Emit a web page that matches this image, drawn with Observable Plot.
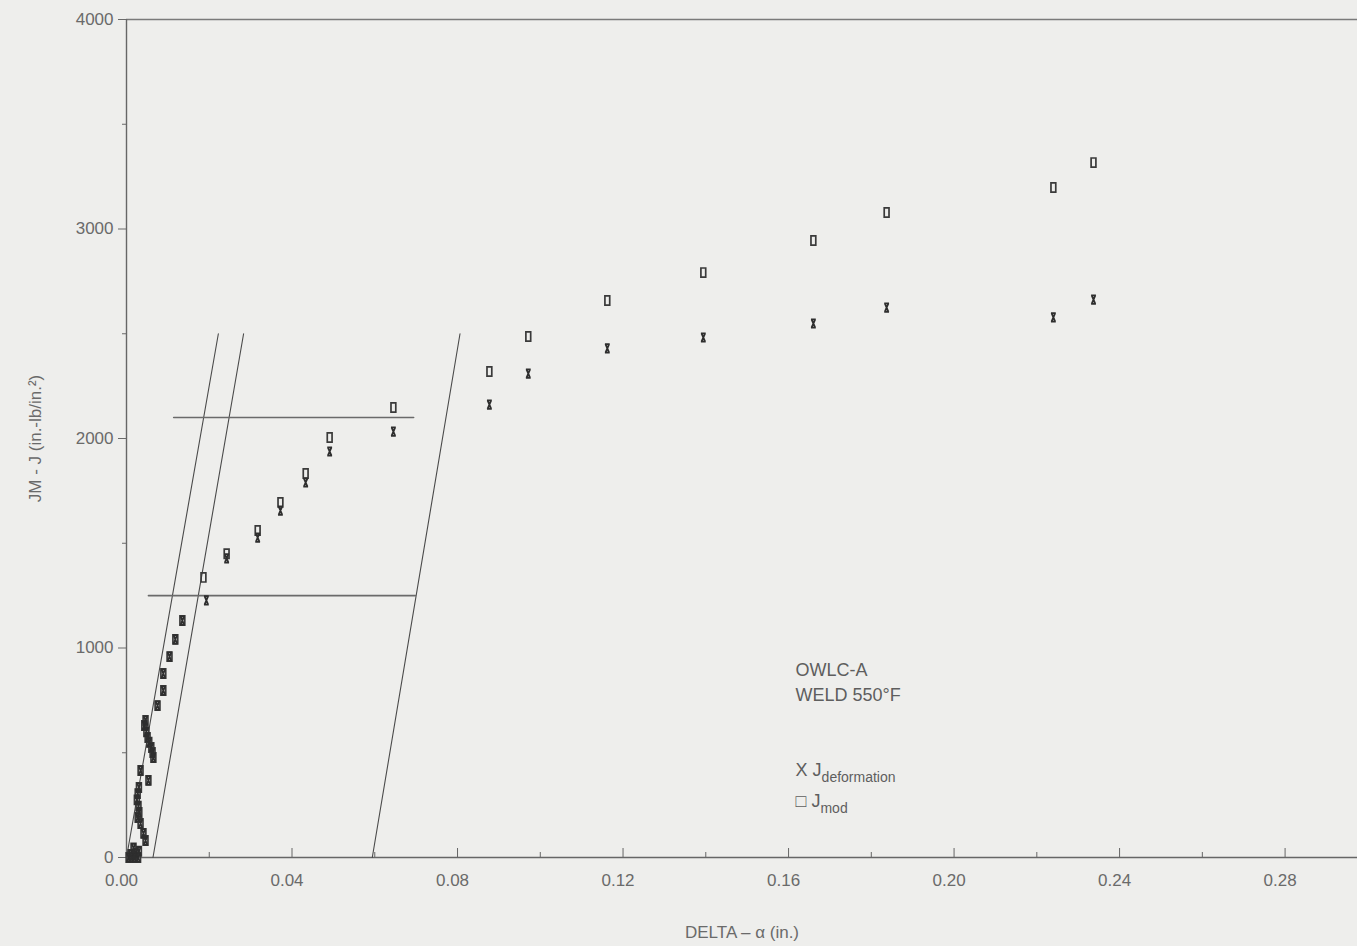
<!DOCTYPE html>
<html><head><meta charset="utf-8">
<script src="https://cdn.jsdelivr.net/npm/d3@7"></script>
<script src="https://cdn.jsdelivr.net/npm/@observablehq/plot@0.6"></script>
<style>
html,body{margin:0;padding:0;background:#eeeeec;overflow:hidden}
#chart svg{display:block}
</style>
</head><body><div id="chart"></div>
<script>
// J_mod points (upper symbols)
const deltaMod = [0.0186,0.0242,0.0317,0.0372,0.0433,0.0491,0.0645,0.0877,0.0971,0.1162,0.1394,0.1660,0.1837,0.2240,0.2337];
const jMod     = [1337,1450,1561,1695,1833,2005,2148,2320,2487,2659,2792,2945,3079,3198,3317];
// J_deformation points (lower symbols)
const deltaDef = [0.0193,0.0242,0.0317,0.0372,0.0433,0.0491,0.0645,0.0877,0.0971,0.1162,0.1394,0.1660,0.1837,0.2240,0.2337];
const jDef     = [1227,1428,1527,1656,1790,1938,2033,2162,2310,2430,2482,2549,2625,2578,2663];
// early points where both J values coincide
const deltaLow = [0.0005,0.0012,0.0020,0.0028,0.0010,0.0022,0.0030,0.0017,0.0046,0.0041,0.0034,0.0027,0.0031,0.0029,0.0025,0.0027,0.0030,0.0053,0.0034,0.0065,0.0063,0.0060,0.0055,0.0051,0.0048,0.0043,0.0046,0.0075,0.0089,0.0089,0.0104,0.0118,0.0135];
const jLow     = [0,0,0,0,15,20,30,45,81,115,162,191,215,245,275,305,334,368,415,477,501,525,550,573,600,630,654,725,797,878,959,1041,1131];
// blunting / offset lines
const bluntStart = [0, 0.0064, 0.0594];
const bluntEnd   = [0.0222, 0.0283, 0.0806];
const bluntJ     = [0, 2500];
// exclusion lines
const exclJ     = [2100, 1250];
const exclStart = [0.0114, 0.0053];
const exclEnd   = [0.0694, 0.0698];
// ticks
const xMajor = [0,0.04,0.08,0.12,0.16,0.20,0.24,0.28];
const xMinor = [0.02,0.06,0.10,0.14,0.18,0.22,0.26];
const yMajor = [0,1000,2000,3000,4000];
const yMinor = [500,1500,2500,3500];
// annotation
const annText = ["OWLC-A","WELD 550°F","X Jdeformation","□ Jmod"];
const annJ    = [893, 773, 415, 267];
const annDelta = 0.1617;

const W = 1357, H = 946, mL = 126, mT = 19, mB = 89;
const plotH = H - mT - mB;

// tall narrow glyph-like symbols
const tallBox = {draw(ctx){ ctx.moveTo(-2.4,-4.6); ctx.lineTo(2.4,-4.6); ctx.lineTo(2.4,4.6); ctx.lineTo(-2.4,4.6); ctx.closePath(); }};
const tallX = {draw(ctx){ ctx.moveTo(-2.4,-4.2); ctx.lineTo(2.4,-4.2); ctx.moveTo(-2.4,4.2); ctx.lineTo(2.4,4.2); ctx.moveTo(-1.8,-4.2); ctx.lineTo(1.8,4.2); ctx.moveTo(1.8,-4.2); ctx.lineTo(-1.8,4.2); }};

const modPts = deltaMod.map((d,i)=>({x:d,y:jMod[i]})).concat(deltaLow.map((d,i)=>({x:d,y:jLow[i]})));
const defPts = deltaDef.map((d,i)=>({x:d,y:jDef[i]})).concat(deltaLow.map((d,i)=>({x:d,y:jLow[i]})));
const bluntLines = bluntStart.flatMap((s,i)=>[{k:i,x:s,y:bluntJ[0]},{k:i,x:bluntEnd[i],y:bluntJ[1]}]);
const exclLines = exclJ.flatMap((j,i)=>[{k:i,x:exclStart[i],y:j},{k:i,x:exclEnd[i],y:j}]);

const chart = Plot.plot({
  width: W, height: H,
  marginLeft: mL, marginRight: 0, marginTop: mT, marginBottom: mB,
  style: {background:"#eeeeec", color:"#6a6a6a", fontFamily:"'Liberation Sans', Arial, sans-serif", fontSize:"17px"},
  x: {domain:[0,0.2975]},
  y: {domain:[0,4000]},
  marks: [
    Plot.ruleY([4000], {stroke:"#7a7a7a", strokeWidth:1.6}),
    Plot.ruleX([0], {stroke:"#666", strokeWidth:1.4}),
    Plot.ruleY([0], {stroke:"#666", strokeWidth:1.4}),
    Plot.axisY({ticks:yMajor, tickSize:8, tickPadding:5, tickFormat:d=>String(d), label:"JM - J (in.-lb/in.²)", labelAnchor:"center", labelArrow:"none", labelOffset:98}),
    Plot.axisY({ticks:yMinor, tickSize:4, tickFormat:()=>"", label:null}),
    Plot.tickX(xMajor, {x:d=>d, insetTop:plotH-9, stroke:"#666"}),
    Plot.tickX(xMinor, {x:d=>d, insetTop:plotH-5, stroke:"#666"}),
    Plot.axisX({ticks:xMajor, tickSize:0, tickPadding:16, dx:-5, tickFormat:d3.format(".2f"), label:"DELTA – α (in.)", labelAnchor:"center", labelArrow:"none", labelOffset:80}),
    Plot.line(bluntLines, {x:"x", y:"y", z:"k", stroke:"#4a4a4a", strokeWidth:1.1}),
    Plot.line(exclLines, {x:"x", y:"y", z:"k", stroke:"#6a6a6a", strokeWidth:1.6}),
    Plot.dot(modPts, {x:"x", y:"y", symbol:tallBox, r:3, stroke:"#3a3a3a", strokeWidth:1.7, fill:"none"}),
    Plot.dot(defPts, {x:"x", y:"y", symbol:tallX, r:3, stroke:"#2e2e2e", strokeWidth:1.8}),
    Plot.text(annText, {x:()=>annDelta, y:(d,i)=>annJ[i], text:d=>d, textAnchor:"start", fontSize:18, fill:"#5e5e5e"})
  ]
});

// subscripts for legend labels
d3.select(chart).selectAll("text").each(function(){
  const t = this.textContent;
  const subs = {"X Jdeformation":["X J","deformation"], "□ Jmod":["□ J","mod"]};
  if (subs[t]) {
    const el = d3.select(this);
    el.text(subs[t][0]);
    el.append("tspan").attr("dy", 6).attr("font-size", 14).text(subs[t][1]);
  }
});

document.getElementById("chart").appendChild(chart);
</script>
</body></html>
